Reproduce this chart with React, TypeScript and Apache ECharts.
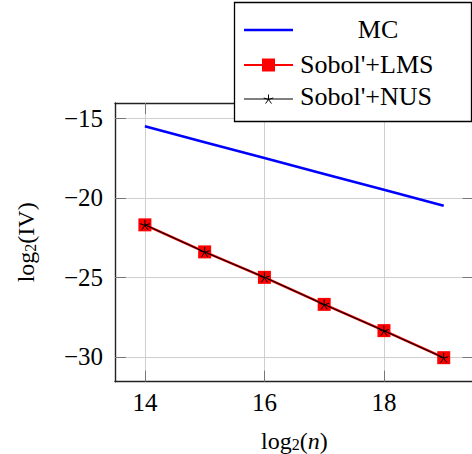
import React, { useEffect, useRef } from "react";
import * as echarts from "echarts";

const xValues = [14, 15, 16, 17, 18, 19];
const mcValues = [-15.5, -16.5, -17.5, -18.5, -19.5, -20.5];
const lmsValues = [-21.7, -23.4, -25.0, -26.7, -28.35, -30.05];
const nusValues = [-21.7, -23.4, -25.0, -26.7, -28.35, -30.05];
const xTicks = [14, 16, 18];
const yTicks = [-30, -25, -20, -15];
const seriesNames = ["MC", "Sobol'+LMS", "Sobol'+NUS"];

const FONT = "'Liberation Serif', 'Times New Roman', serif";
const STAR = "path://M0 0L0 -10M0 0L9.51 -3.09M0 0L5.88 8.09M0 0L-5.88 8.09M0 0L-9.51 -3.09";

const pair = (xs: number[], ys: number[]) => xs.map((x, i) => [x, ys[i]]);
const fmt = (v: number) => String(v).replace("-", "\u2212");

function starLines(cx: number, cy: number, r: number) {
  const angs = [90, 18, -54, -126, 162];
  return angs.map((a) => ({
    type: "line",
    shape: {
      x1: cx,
      y1: cy,
      x2: cx + r * Math.cos((a * Math.PI) / 180),
      y2: cy - r * Math.sin((a * Math.PI) / 180),
    },
    style: { stroke: "#000", lineWidth: 1 },
    z: 102,
  }));
}

export default function App() {
  const ref = useRef<HTMLDivElement>(null);
  useEffect(() => {
    if (!ref.current) return;
    const chart = echarts.init(ref.current, null, { renderer: "svg" });
    const rich = {
      n: { fontFamily: FONT, fontSize: 24, lineHeight: 24, color: "#000" },
      it: { fontFamily: FONT, fontSize: 24, lineHeight: 24, fontStyle: "italic", color: "#000" },
      sub: { fontFamily: FONT, fontSize: 16, lineHeight: 10, verticalAlign: "bottom", color: "#000" },
    };
    const axisCommon = {
      axisLine: { show: true, onZero: false, lineStyle: { color: "#222", width: 1.4 } },
      axisTick: { show: true, inside: true, length: 11, lineStyle: { color: "#777", width: 1 } },
    };
    chart.setOption({
      animation: false,
      backgroundColor: "#fff",
      textStyle: { fontFamily: FONT },
      grid: {
        left: 115,
        top: 103,
        width: 358.6,
        height: 278.7,
        containLabel: false,
        outerBoundsMode: "none",
      },
      xAxis: [
        {
          type: "value",
          min: 13.5,
          max: 19.5,
          ...axisCommon,
          axisTick: { ...axisCommon.axisTick, customValues: xTicks },
          axisLabel: {
            customValues: xTicks,
            formatter: fmt,
            fontFamily: FONT,
            fontSize: 25,
            color: "#000",
            margin: 8,
          },
          splitLine: { show: true, lineStyle: { color: "#cfcfcf", width: 1 } },
          name: "{n|log}{sub|2}{n|(}{it|n}{n|)}",
          nameLocation: "middle",
          nameGap: 47,
          nameTextStyle: { rich, fontFamily: FONT },
        },
        {
          type: "value",
          position: "top",
          min: 13.5,
          max: 19.5,
          ...axisCommon,
          axisTick: { ...axisCommon.axisTick, customValues: xTicks },
          axisLabel: { show: false, customValues: xTicks },
          splitLine: { show: false },
        },
      ],
      yAxis: [
        {
          type: "value",
          min: -31.56,
          max: -14.04,
          ...axisCommon,
          axisTick: { ...axisCommon.axisTick, customValues: yTicks },
          axisLabel: {
            customValues: yTicks,
            formatter: fmt,
            fontFamily: FONT,
            fontSize: 25,
            color: "#000",
            margin: 12,
          },
          splitLine: { show: true, lineStyle: { color: "#cfcfcf", width: 1 } },
          name: "{n|log}{sub|2}{n|(IV)}",
          nameLocation: "middle",
          nameRotate: 90,
          nameGap: 77,
          nameTextStyle: { rich, fontFamily: FONT },
        },
        {
          type: "value",
          position: "right",
          min: -31.56,
          max: -14.04,
          ...axisCommon,
          axisTick: { ...axisCommon.axisTick, customValues: yTicks },
          axisLabel: { show: false, customValues: yTicks },
          splitLine: { show: false },
        },
      ],
      series: [
        {
          name: seriesNames[0],
          type: "line",
          data: pair(xValues, mcValues),
          symbol: "none",
          lineStyle: { color: "#0000ff", width: 2.6 },
          z: 3,
        },
        {
          name: seriesNames[1],
          type: "line",
          data: pair(xValues, lmsValues),
          symbol: "rect",
          symbolSize: 13,
          itemStyle: { color: "#ff0000" },
          lineStyle: { color: "#ff0000", width: 2.6 },
          z: 4,
        },
        {
          name: seriesNames[2],
          type: "line",
          data: pair(xValues, nusValues),
          symbol: STAR,
          symbolSize: 10,
          itemStyle: { color: "none", borderColor: "#000", borderWidth: 1 },
          lineStyle: { color: "#000", width: 1.1 },
          z: 5,
        },
      ],
      graphic: [
        {
          type: "rect",
          shape: { x: 234.5, y: 2.5, width: 237, height: 119 },
          style: { fill: "#fff", stroke: "#000", lineWidth: 1.3 },
          z: 100,
        },
        {
          type: "line",
          shape: { x1: 244, y1: 30, x2: 293, y2: 30 },
          style: { stroke: "#0000ff", lineWidth: 2.6 },
          z: 101,
        },
        {
          type: "text",
          x: 378,
          y: 29,
          style: { text: seriesNames[0], fontFamily: FONT, fontSize: 26, fill: "#000", align: "center", verticalAlign: "middle" },
          z: 101,
        },
        {
          type: "line",
          shape: { x1: 244, y1: 65, x2: 293, y2: 65 },
          style: { stroke: "#ff0000", lineWidth: 2.2 },
          z: 101,
        },
        {
          type: "rect",
          shape: { x: 262, y: 58.5, width: 13, height: 13 },
          style: { fill: "#ff0000" },
          z: 102,
        },
        {
          type: "text",
          x: 300,
          y: 64,
          style: { text: seriesNames[1], fontFamily: FONT, fontSize: 26, fill: "#000", align: "left", verticalAlign: "middle" },
          z: 101,
        },
        {
          type: "line",
          shape: { x1: 244, y1: 99, x2: 293, y2: 99 },
          style: { stroke: "#000", lineWidth: 1 },
          z: 101,
        },
        ...starLines(268.5, 99.5, 5),
        {
          type: "text",
          x: 300,
          y: 96,
          style: { text: seriesNames[2], fontFamily: FONT, fontSize: 26, fill: "#000", align: "left", verticalAlign: "middle" },
          z: 101,
        },
      ],
    });
    return () => chart.dispose();
  }, []);
  return (
    <div
      ref={ref}
      style={{ position: "fixed", left: 0, top: 0, width: 472, height: 454, background: "#fff" }}
    />
  );
}
